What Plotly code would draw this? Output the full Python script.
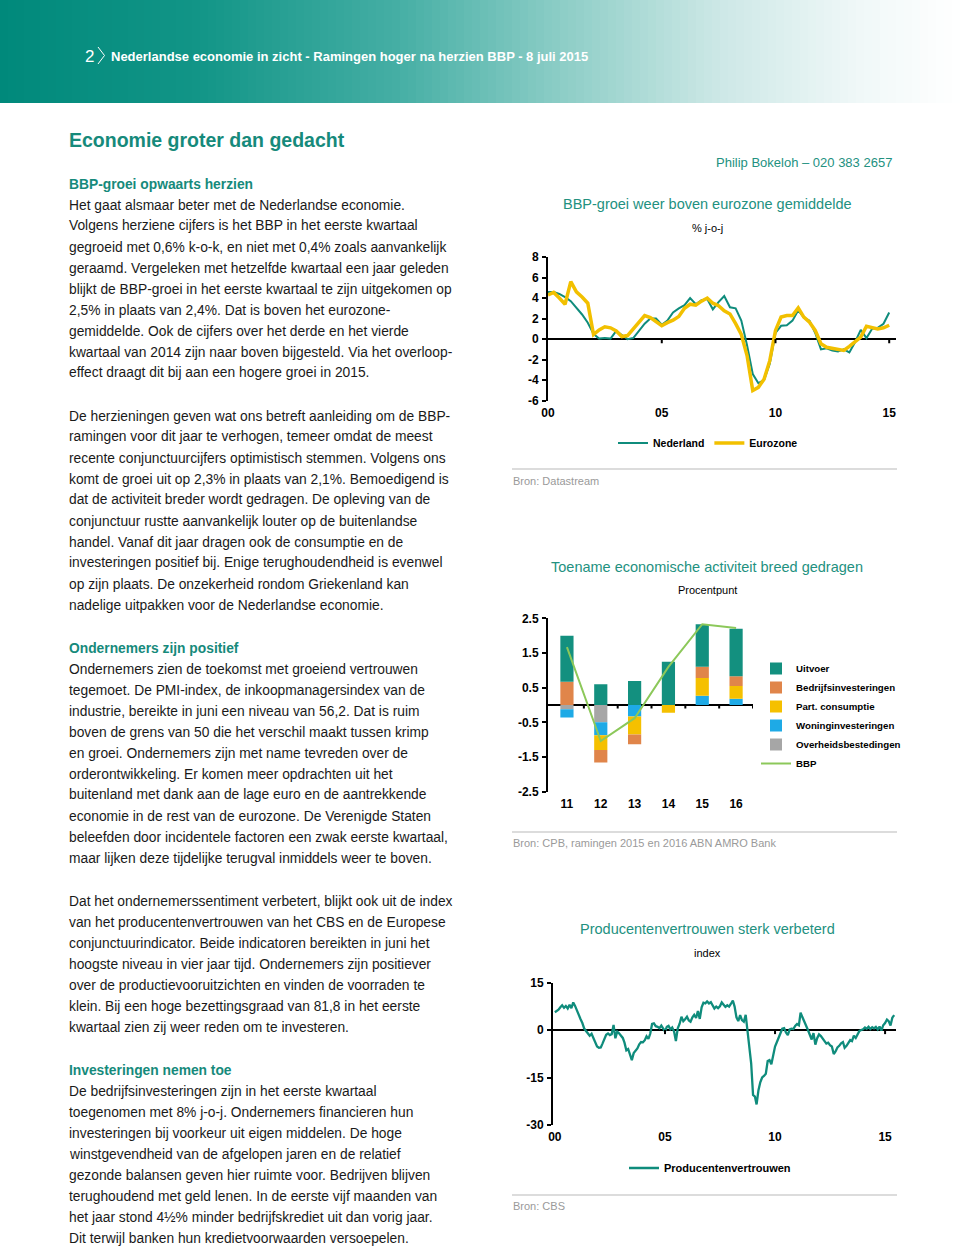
import plotly.graph_objects as go
import pandas as pd

W, H = 960, 1247

# ---------------- data ----------------
quarters = pd.date_range("2000-01-01", periods=61, freq="QS")
nederland = [4.6, 4.6, 4.4, 4.1, 3.7, 3.1, 2.4, 1.6, 0.5, 0.05, 0.1, 0.05,
             0.8, 0.4, 0.0, 0.1, 0.8, 1.5, 2.0, 2.0, 1.4, 1.8, 2.6, 3.0,
             3.3, 4.0, 3.4, 3.8, 3.9, 2.9, 3.6, 4.2, 3.1, 3.0, 1.8, -0.6,
             -3.4, -4.3, -4.0, -2.4, 0.6, 1.3, 1.35, 1.8, 2.8, 2.1, 1.8, 0.6,
             -1.0, -0.9, -1.1, -1.2, -1.0, -1.3, -0.3, 0.9, 0.1, 1.0, 1.1, 1.5,
             2.6]
eurozone = [4.3, 4.55, 4.0, 3.4, 5.6, 4.6, 4.1, 3.5, 0.45, 0.9, 1.2, 1.1,
            0.8, 0.25, 0.35, 1.0, 1.75, 2.3, 2.1, 1.7, 1.3, 1.6, 1.85, 2.2,
            3.0, 3.4, 3.3, 3.7, 4.0, 3.5, 3.25, 2.75, 2.45, 1.5, 0.45, -1.6,
            -5.0, -4.7, -3.9, -2.1, 0.85, 2.15, 2.3, 2.3, 3.05, 2.15, 1.65, 0.85,
            -0.45, -0.8, -0.9, -0.95, -1.1, -0.7, -0.3, 0.2, 1.25, 1.1, 1.0, 1.1,
            1.35]
chart1_ticks = ["2000-01-01", "2005-01-01", "2010-01-01", "2015-01-01"]
chart1_ticktext = ["00", "05", "10", "15"]
chart1_yticks = [8, 6, 4, 2, 0, -2, -4, -6]
chart1_ytext = ["8", "6", "4", "2", "0", "-2", "-4", "-6"]

bar_years = ["11", "12", "13", "14", "15", "16"]
uitvoer = [1.33, 0.60, 0.69, 1.25, 1.23, 1.37]
bedrijfsinv = [0.67, -0.36, -0.28, 0.0, 0.32, 0.28]
part_consumptie = [0.0, -0.43, -0.52, -0.22, 0.51, 0.37]
woninginv = [-0.24, -0.37, -0.33, 0.0, 0.27, 0.18]
overheid = [-0.12, -0.50, 0.0, 0.0, 0.0, 0.0]
bbp = [1.67, -1.04, -0.38, 1.1, 2.33, 2.22]
chart2_yticks = [2.5, 1.5, 0.5, -0.5, -1.5, -2.5]
chart2_ytext = ["2.5", "1.5", "0.5", "-0.5", "-1.5", "-2.5"]

months = pd.date_range("2000-01-01", periods=186, freq="MS")
producentenvertrouwen = [
    5.6, 6.0, 6.4, 7.2, 7.8, 7.0, 7.6, 6.8, 8.0, 6.9, 8.7, 7.6,          # 2000
    6.0, 4.8, 3.5, 2.2, 0.5, -0.3, -1.0, -1.8, -1.2, -2.5, -4.3, -5.2,   # 2001
    -5.6, -5.5, -4.3, -2.8, -1.5, -1.1, -1.6, -1.3, 1.6, -2.6, -0.5, -1.0,  # 2002
    -1.8, -2.5, -4.0, -6.4, -6.0, -7.8, -9.5, -7.3, -6.6, -5.8, -4.5, -3.8,  # 2003
    -3.9, -3.2, -2.0, -2.8, -1.2, 1.9, 2.1, 1.2, 1.0, 0.6, 1.4, 0.3,     # 2004
    -0.4, 1.0, 1.3, 0.2, 0.8, -0.5, -3.5, 0.5, 2.0, 4.2, 2.8, 3.4,       # 2005
    4.2, 3.0, 2.6, 4.0, 4.8, 3.8, 6.0, 3.5, 7.2, 8.6, 8.4, 9.0,          # 2006
    8.4, 8.8, 7.9, 6.8, 7.4, 6.9, 7.5, 8.7, 8.0, 7.3, 7.8, 7.4,          # 2007
    8.3, 9.3, 7.4, 4.0, 2.8, 4.7, 3.1, 2.6, 4.8, 0.2, -5.0, -10.5,       # 2008
    -20.5, -21.0, -23.5, -19.0, -16.5, -15.0, -14.5, -13.8, -9.8, -9.5, -10.8, -7.6,  # 2009
    -5.2, -3.8, -2.5, -1.0, 0.4, 0.6, -0.8, -1.6, 0.2, 0.4, 0.3, 1.3,    # 2010
    1.9, 1.5, 5.5, 4.0, 2.8, 1.5, 0.0, -1.5, -3.0, -1.0, -4.6, -2.6,     # 2011
    -1.4, -1.9, -2.8, -3.6, -4.3, -4.0, -4.8, -5.2, -7.6, -6.8, -5.5, -5.0,  # 2012
    -4.2, -3.8, -5.6, -5.0, -4.0, -3.2, -3.5, -1.8, -2.5, -1.2, -0.3, 0.0,   # 2013
    0.2, 0.8, 0.4, 1.0, 0.3, 0.9, 0.5, 1.0, 0.2, 1.1, -0.2, 1.5,         # 2014
    2.2, 3.3, 2.8, 1.4, 3.9, 4.7,                                        # 2015
]
chart3_ticks = ["2000-01-01", "2005-01-01", "2010-01-01", "2015-01-01"]
chart3_ticktext = ["00", "05", "10", "15"]
chart3_yticks = [15, 0, -15, -30]
chart3_ytext = ["15", "0", "-15", "-30"]

# ---------------- styles ----------------
TEAL = "#0f8c7c"
YELLOW = "#f2c000"
C_UIT = "#13907f"
C_BED = "#e0854a"
C_PART = "#f5c000"
C_WON = "#1eaae6"
C_OVH = "#a6a6a6"
C_BBP = "#8cc85a"
HEAD = "#168a7b"
TITLE = "#23917f"
BODY = "#1a1a1a"
SANS = "Liberation Sans, Arial, sans-serif"
NARROW = "Liberation Sans Narrow, Arial Narrow, Liberation Sans, Arial, sans-serif"


def X(px):
    return px / W


def Y(py):
    return 1 - py / H


fig = go.Figure()

# chart 1
fig.add_trace(go.Scatter(x=quarters, y=nederland, name="Nederland", mode="lines",
                         line=dict(color=TEAL, width=2), xaxis="x", yaxis="y",
                         legend="legend"))
fig.add_trace(go.Scatter(x=quarters, y=eurozone, name="Eurozone", mode="lines",
                         line=dict(color=YELLOW, width=3.5), xaxis="x", yaxis="y",
                         legend="legend"))

# chart 2
bar_series = [
    ("Overheidsbestedingen", overheid, C_OVH, 5),
    ("Woninginvesteringen", woninginv, C_WON, 4),
    ("Part. consumptie", part_consumptie, C_PART, 3),
    ("Bedrijfsinvesteringen", bedrijfsinv, C_BED, 2),
    ("Uitvoer", uitvoer, C_UIT, 1),
]
for name, vals, col, rank in bar_series:
    fig.add_trace(go.Bar(x=bar_years, y=vals, name=name, marker=dict(color=col, line=dict(width=0)),
                         width=0.39, xaxis="x2", yaxis="y2", legend="legend2",
                         legendrank=rank))
fig.add_trace(go.Scatter(x=bar_years, y=bbp, name="BBP", mode="lines",
                         line=dict(color=C_BBP, width=2), xaxis="x2", yaxis="y2",
                         legend="legend2", legendrank=6))

# chart 3
fig.add_trace(go.Scatter(x=months, y=producentenvertrouwen, name="Producentenvertrouwen",
                         mode="lines", line=dict(color=TEAL, width=2.3),
                         xaxis="x3", yaxis="y3", legend="legend3"))

tickfont = dict(family=SANS, size=12, color="black", weight="bold")
yax_common = dict(showline=True, linecolor="black", linewidth=2, ticks="outside",
                  ticklen=4, tickwidth=2, tickcolor="black", showgrid=False,
                  zeroline=True, zerolinecolor="black", zerolinewidth=2,
                  tickfont=tickfont, tickmode="array", ticklabelstandoff=1)
xax_common = dict(showline=False, ticks="", showgrid=False, zeroline=False,
                  tickfont=tickfont, ticklabelstandoff=3)

fig.update_layout(
    width=W, height=H, margin=dict(l=0, r=0, t=0, b=0, pad=0, autoexpand=False),
    paper_bgcolor="white", plot_bgcolor="rgba(0,0,0,0)",
    barmode="relative",
    xaxis=dict(domain=[X(548), X(896)], anchor="y", type="date",
               range=["2000-01-01", "2015-04-20"], tickmode="array",
               tickvals=chart1_ticks, ticktext=chart1_ticktext, **xax_common),
    yaxis=dict(domain=[Y(400.7), Y(257)], anchor="x", range=[-6, 8],
               tickvals=chart1_yticks, ticktext=chart1_ytext, **yax_common),
    xaxis2=dict(domain=[X(548), X(753)], anchor="y2", type="category",
                range=[-0.56, 5.5], **xax_common),
    yaxis2=dict(domain=[Y(791.7), Y(618.3)], anchor="x2", range=[-2.5, 2.5],
                tickvals=chart2_yticks, ticktext=chart2_ytext, **yax_common),
    xaxis3=dict(domain=[X(553), X(896)], anchor="y3", type="date",
                range=["1999-12-01", "2015-07-01"], tickmode="array",
                tickvals=chart3_ticks, ticktext=chart3_ticktext, **xax_common),
    yaxis3=dict(domain=[Y(1125), Y(982.5)], anchor="x3", range=[-30, 15],
                tickvals=chart3_yticks, ticktext=chart3_ytext, **yax_common),
    legend=dict(x=X(708), y=Y(443), xanchor="center", yanchor="middle",
                orientation="h", font=dict(family=NARROW, size=10.5, color="black", weight="bold"),
                bgcolor="rgba(0,0,0,0)", itemwidth=30),
    legend2=dict(x=X(756), y=Y(654), xanchor="left", yanchor="top",
                 orientation="v", traceorder="normal",
                 font=dict(family=NARROW, size=9.7, color="black", weight="bold"),
                 bgcolor="rgba(0,0,0,0)", tracegroupgap=0),
    legend3=dict(x=X(710), y=Y(1168), xanchor="center", yanchor="middle",
                 orientation="h", font=dict(family=NARROW, size=11, color="black", weight="bold"),
                 bgcolor="rgba(0,0,0,0)"),
    showlegend=True,
)

shapes = []
# header gradient
stops = [(0, (0, 137, 123)), (200, (18, 149, 135)), (400, (70, 175, 165)),
         (560, (140, 205, 198)), (720, (205, 232, 230)), (860, (240, 248, 248)),
         (960, (255, 255, 255))]


def grad(px):
    for (a, ca), (b, cb) in zip(stops[:-1], stops[1:]):
        if a <= px <= b:
            t = (px - a) / (b - a)
            return "rgb(%d,%d,%d)" % tuple(round(ca[i] + (cb[i] - ca[i]) * t) for i in range(3))
    return "rgb(255,255,255)"


for i in range(0, 960, 8):
    shapes.append(dict(type="rect", xref="paper", yref="paper", x0=X(i), x1=X(i + 8.5),
                       y0=Y(103), y1=1, fillcolor=grad(i + 4), line=dict(width=0),
                       layer="below"))
# chevron in header
shapes.append(dict(type="path", xref="paper", yref="paper",
                   path="M %f,%f L %f,%f L %f,%f" % (X(98), Y(47), X(104.5), Y(55.5), X(98), Y(64)),
                   line=dict(color="white", width=1)))
# separators
for yy in (469, 832, 1195):
    shapes.append(dict(type="line", xref="paper", yref="paper", x0=X(512), x1=X(897),
                       y0=Y(yy), y1=Y(yy), line=dict(color="#dcdcdc", width=2)))
# small tick marks on zero lines
for t in chart1_ticks[1:]:
    shapes.append(dict(type="line", xref="x", yref="y", x0=t, x1=t, y0=0, y1=-0.4,
                       line=dict(color="black", width=2)))
for t in chart3_ticks[1:]:
    shapes.append(dict(type="line", xref="x3", yref="y3", x0=t, x1=t, y0=0, y1=-1.3,
                       line=dict(color="black", width=2)))
for i in range(len(bar_years)):
    shapes.append(dict(type="line", xref="x2", yref="y2", x0=i + 0.5, x1=i + 0.5, y0=0,
                       y1=-0.1, line=dict(color="black", width=2)))
fig.update_layout(shapes=shapes)

ann = []


def txt(s, x, y, size=13.8, color=BODY, anchor="left", family=SANS, weight="normal"):
    ann.append(dict(text=s, x=X(x), y=Y(y), xref="paper", yref="paper",
                    xanchor=anchor, yanchor="middle", showarrow=False,
                    font=dict(family=family, size=size, color=color, weight=weight)))


# header
txt("2", 83, 56, size=17, color="white")
txt("Nederlandse economie in zicht - Ramingen hoger na herzien BBP - 8 juli 2015",
    109, 57, size=13, color="white", family=NARROW, weight="bold")

# left column
LX = 67
txt("Economie groter dan gedacht", LX, 140, size=19.5, color=HEAD, weight="bold")

sections = [
    ("BBP-groei opwaarts herzien", 184, [
        "Het gaat alsmaar beter met de Nederlandse economie.",
        "Volgens herziene cijfers is het BBP in het eerste kwartaal",
        "gegroeid met 0,6% k-o-k, en niet met 0,4% zoals aanvankelijk",
        "geraamd. Vergeleken met hetzelfde kwartaal een jaar geleden",
        "blijkt de BBP-groei in het eerste kwartaal te zijn uitgekomen op",
        "2,5% in plaats van 2,4%. Dat is boven het eurozone-",
        "gemiddelde. Ook de cijfers over het derde en het vierde",
        "kwartaal van 2014 zijn naar boven bijgesteld. Via het overloop-",
        "effect draagt dit bij aan een hogere groei in 2015."]),
    (None, 395, [
        "De herzieningen geven wat ons betreft aanleiding om de BBP-",
        "ramingen voor dit jaar te verhogen, temeer omdat de meest",
        "recente conjunctuurcijfers optimistisch stemmen. Volgens ons",
        "komt de groei uit op 2,3% in plaats van 2,1%. Bemoedigend is",
        "dat de activiteit breder wordt gedragen. De opleving van de",
        "conjunctuur rustte aanvankelijk louter op de buitenlandse",
        "handel. Vanaf dit jaar dragen ook de consumptie en de",
        "investeringen positief bij. Enige terughoudendheid is evenwel",
        "op zijn plaats. De onzekerheid rondom Griekenland kan",
        "nadelige uitpakken voor de Nederlandse economie."]),
    ("Ondernemers zijn positief", 648, [
        "Ondernemers zien de toekomst met groeiend vertrouwen",
        "tegemoet. De PMI-index, de inkoopmanagersindex van de",
        "industrie, bereikte in juni een niveau van 56,2. Dat is ruim",
        "boven de grens van 50 die het verschil maakt tussen krimp",
        "en groei. Ondernemers zijn met name tevreden over de",
        "orderontwikkeling. Er komen meer opdrachten uit het",
        "buitenland met dank aan de lage euro en de aantrekkende",
        "economie in de rest van de eurozone. De Verenigde Staten",
        "beleefden door incidentele factoren een zwak eerste kwartaal,",
        "maar lijken deze tijdelijke terugval inmiddels weer te boven."]),
    (None, 880, [
        "Dat het ondernemerssentiment verbetert, blijkt ook uit de index",
        "van het producentenvertrouwen van het CBS en de Europese",
        "conjunctuurindicator. Beide indicatoren bereikten in juni het",
        "hoogste niveau in vier jaar tijd. Ondernemers zijn positiever",
        "over de productievooruitzichten en vinden de voorraden te",
        "klein. Bij een hoge bezettingsgraad van 81,8 in het eerste",
        "kwartaal zien zij weer reden om te investeren."]),
    ("Investeringen nemen toe", 1070, [
        "De bedrijfsinvesteringen zijn in het eerste kwartaal",
        "toegenomen met 8% j-o-j. Ondernemers financieren hun",
        "investeringen bij voorkeur uit eigen middelen. De hoge",
        "winstgevendheid van de afgelopen jaren en de relatief",
        "gezonde balansen geven hier ruimte voor. Bedrijven blijven",
        "terughoudend met geld lenen. In de eerste vijf maanden van",
        "het jaar stond 4½% minder bedrijfskrediet uit dan vorig jaar.",
        "Dit terwijl banken hun kredietvoorwaarden versoepelen."]),
]
for head, y0, lines in sections:
    if head:
        txt(head, LX, y0, size=13.8, color=HEAD, weight="bold")
    for i, line in enumerate(lines):
        txt(line, LX, y0 + 21 * (i + 1))

# right column
txt("Philip Bokeloh \u2013 020 383 2657", 894, 163, size=13, color=TITLE, anchor="right")
txt("BBP-groei weer boven eurozone gemiddelde", 707, 204, size=14.5, color=TITLE, anchor="center")
txt("% j-o-j", 707, 228, size=11, color="black", anchor="center")
txt("Bron: Datastream", 511, 481, size=11, color="#9a9a9a")
txt("Toename economische activiteit breed gedragen", 707, 567, size=14.5, color=TITLE, anchor="center")
txt("Procentpunt", 707, 590, size=11, color="black", anchor="center")
txt("Bron: CPB, ramingen 2015 en 2016 ABN AMRO Bank", 511, 843, size=11, color="#9a9a9a")
txt("Producentenvertrouwen sterk verbeterd", 707, 929, size=14.5, color=TITLE, anchor="center")
txt("index", 707, 953, size=11, color="black", anchor="center")
txt("Bron: CBS", 511, 1206, size=11, color="#9a9a9a")

fig.update_layout(annotations=ann)
fig.write_html(
    "out.html",
    config={"displayModeBar": False},
    post_script="document.body.style.margin='0px';document.body.style.padding='0px';"
                "document.documentElement.style.overflow='hidden';",
)
